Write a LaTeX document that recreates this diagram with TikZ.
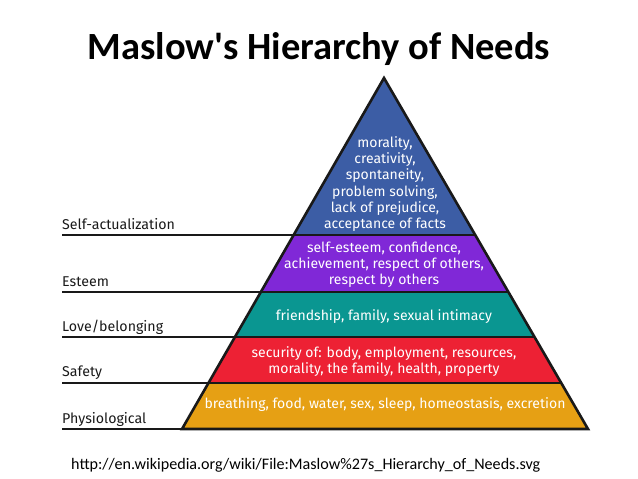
\documentclass[tikz,border=0pt]{standalone}
\usepackage{fontspec}
\setmainfont{Carlito}
\newfontfamily\bandfont{Fira Sans}
\usepackage{tikz}
\usetikzlibrary{calc}
\definecolor{lvlblue}{RGB}{60,93,165}
\definecolor{lvlpurple}{RGB}{128,40,215}
\definecolor{lvlteal}{RGB}{10,150,145}
\definecolor{lvlred}{RGB}{237,33,52}
\definecolor{lvlorange}{RGB}{230,160,20}

\begin{document}
\begin{tikzpicture}[x=1pt, y=1pt,
    sep/.style={draw=black!90, line width=1.6pt},
    outline/.style={draw=black!90, line width=2.6pt, line join=miter},
    bandtext/.style={text=white, align=center, inner sep=0pt,
        font=\bandfont\fontsize{14}{16.2}\selectfont},
    level/.style={anchor=base west, inner sep=0pt, text=black!90,
        font=\bandfont\fontsize{14.2}{16}\selectfont}
]
\useasboundingbox (0,0) rectangle (638,479);

\node[font=\fontsize{38.5}{40}\selectfont\bfseries, anchor=base] (title) at (319,419)
    {Maslow\textquotesingle s Hierarchy of Needs};

\coordinate (apex) at (384,401);
\coordinate (bl) at (182,50);
\coordinate (br) at (588,50);
\coordinate (lft) at (62,50);
% band edges on both sides
\foreach \t/\n in {0.131/a, 0.262/b, 0.390/c, 0.553/d}{
  \coordinate (l\n) at ($(bl)!\t!(apex)$);
  \coordinate (r\n) at ($(br)!\t!(apex)$);
}

\fill[lvlorange] (bl) -- (br) -- (ra) -- (la) -- cycle;
\fill[lvlred] (la) -- (ra) -- (rb) -- (lb) -- cycle;
\fill[lvlteal] (lb) -- (rb) -- (rc) -- (lc) -- cycle;
\fill[lvlpurple] (lc) -- (rc) -- (rd) -- (ld) -- cycle;
\fill[lvlblue] (ld) -- (rd) -- (apex) -- cycle;

\draw[sep] (lft) -- (bl);
\foreach \n in {a,b,c,d}
  \draw[sep] (lft |- l\n) -- (r\n);
\draw[outline] (bl) -- (br) -- (apex) -- cycle;

% texts inside the pyramid
\node[bandtext] (selfact) at (385,295) {morality,\\creativity,\\spontaneity,\\problem solving,\\lack of prejudice,\\acceptance of facts};
\node[bandtext] (esteem) at (384,214) {self-esteem, confidence,\\achievement, respect of others,\\respect by others};
\node[bandtext] (love) at (384,162) {friendship, family, sexual intimacy};
\node[bandtext] (safety) at (384,117.5) {security of: body, employment, resources,\\morality, the family, health, property};
\node[bandtext] (physio) at (385,74) {breathing, food, water, sex, sleep, homeostasis, excretion};

% level names
\node[level] (lselfact) at (62,249) {Self-actualization};
\node[level] (lesteem) at (62,192) {Esteem};
\node[level] (llove) at (62,147) {Love/belonging};
\node[level] (lsafety) at (62,102) {Safety};
\node[level] (lphysio) at (62,55) {Physiological};

\node[anchor=base west, inner sep=0pt, font=\fontsize{16.1}{18}\selectfont] (src) at (71,9)
    {http://en.wikipedia.org/wiki/File:Maslow\%27s\_Hierarchy\_of\_Needs.svg};
\end{tikzpicture}
\end{document}
